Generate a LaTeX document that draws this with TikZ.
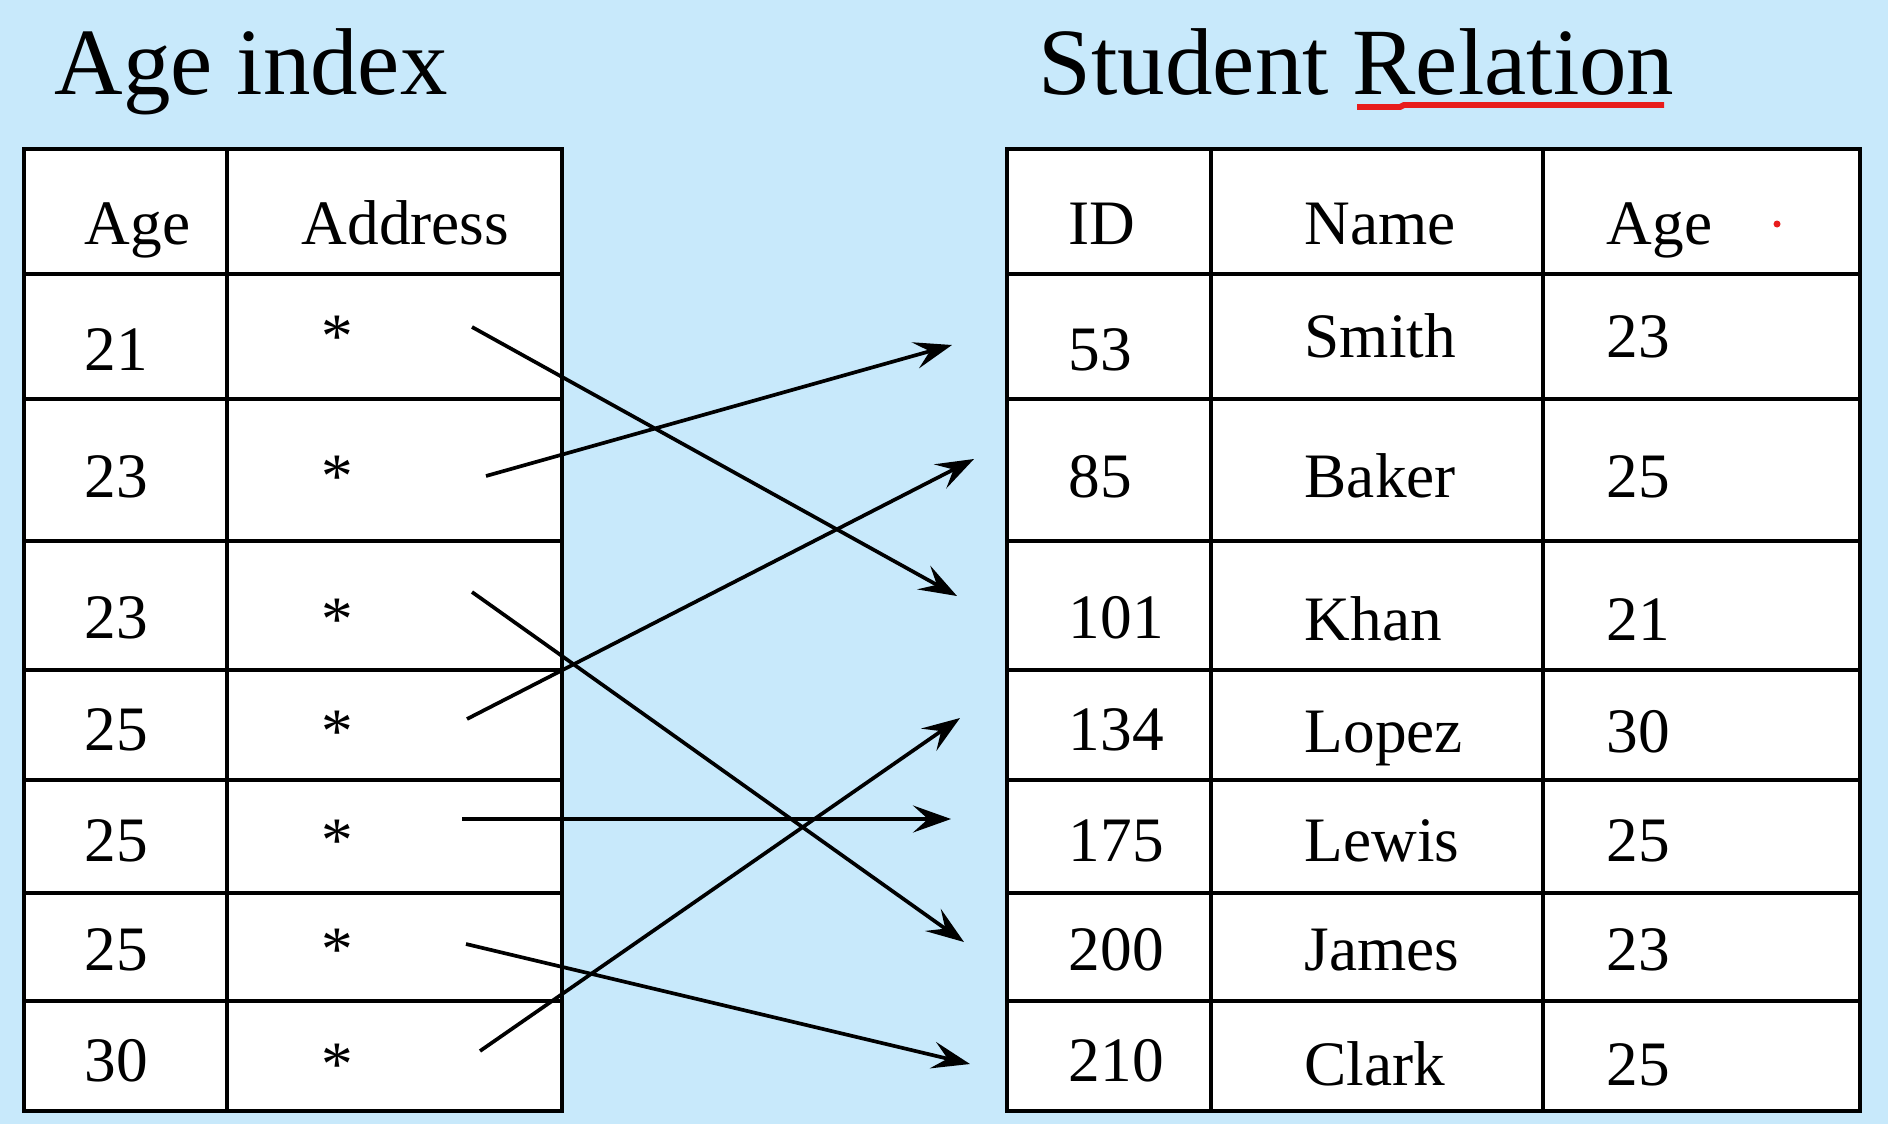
\documentclass[tikz,border=0pt]{standalone}
\usepackage{fontspec}
\setmainfont{Liberation Serif}
\usetikzlibrary{arrows.meta}
\definecolor{bgblue}{RGB}{200,233,251}
\definecolor{markred}{RGB}{232,28,28}

\begin{document}
\begin{tikzpicture}[x=0.01cm, y=-0.01cm]
\tikzstyle{cell} = [rectangle, draw=black, fill=white, line width=1.1pt, anchor=north west, inner sep=0pt]
\tikzstyle{title} = [anchor=base west, inner sep=0pt, font=\fontsize{27}{32}\selectfont]
\tikzstyle{txt} = [anchor=base west, inner sep=0pt, font=\fontsize{18}{22}\selectfont]
\tikzstyle{ptr} = [-{Stealth[length=0.38cm, width=0.27cm, inset=0.15cm]}, line width=1.05pt]
\fill[bgblue] (0,0) rectangle (1888,1124);
\node (AgeTitle)[title] at (54,94) {Age index};
\node (RelTitle)[title] at (1038,94) {Student Relation};
\draw[markred, line width=1.7pt] (1357,107) -- (1400,107) -- (1404,105) -- (1664,105);
% table cells, row by row
\foreach \r/\ya/\yb in {0/147/272, 1/272/397, 2/397/539, 3/539/668, 4/668/778, 5/778/891, 6/891/999, 7/999/1109} {
  \pgfmathsetmacro{\h}{(\yb-\ya)/100}
  \node (IdxAge\r)[cell, minimum width=2.03cm, minimum height=\h cm] at (22,\ya) {};
  \node (IdxAdr\r)[cell, minimum width=3.35cm, minimum height=\h cm] at (225,\ya) {};
  \node (RelId\r)[cell, minimum width=2.04cm, minimum height=\h cm] at (1005,\ya) {};
  \node (RelName\r)[cell, minimum width=3.32cm, minimum height=\h cm] at (1209,\ya) {};
  \node (RelAge\r)[cell, minimum width=3.17cm, minimum height=\h cm] at (1541,\ya) {};
}
\fill[markred] (1777,224) circle (3.5);
% headers
\node (hAge)[txt] at (84,244) {Age};
\node (hAdr)[txt] at (301,244) {Address};
\node (hId)[txt] at (1068,244) {ID};
\node (hName)[txt] at (1304,244) {Name};
\node (hAge2)[txt] at (1606,244) {Age};
% entries
\foreach \r/\yb/\ys/\age/\id/\name/\sage in {1/370/357/21/53/Smith/23, 2/497/497/23/85/Baker/25, 3/638/640/23/101/Khan/21, 4/750/752/25/134/Lopez/30, 5/861/861/25/175/Lewis/25, 6/970/970/25/200/James/23, 7/1081/1085/30/210/Clark/25} {
  \node (age\r)[txt] at (84,\yb) {\age};
  \node (star\r)[txt, anchor=base] at (337,\ys) {*};
  \node (id\r)[txt] at (1068,\yb) {\id};
  \node (name\r)[txt] at (1304,\ys) {\name};
  \node (sage\r)[txt] at (1606,\ys) {\sage};
}
% pointers
\foreach \n/\sx/\sy/\tx/\ty in {1/472/327/957/596, 2/486/476/952/345, 3/472/592/964/942, 4/467/719/974/459, 5/462/819/951/819, 6/466/944/970/1064, 7/480/1051/960/718} {
  \coordinate (from\n) at (\sx,\sy);
  \coordinate (to\n) at (\tx,\ty);
  \draw[ptr] (from\n) -- (to\n);
}
\end{tikzpicture}
\end{document}
